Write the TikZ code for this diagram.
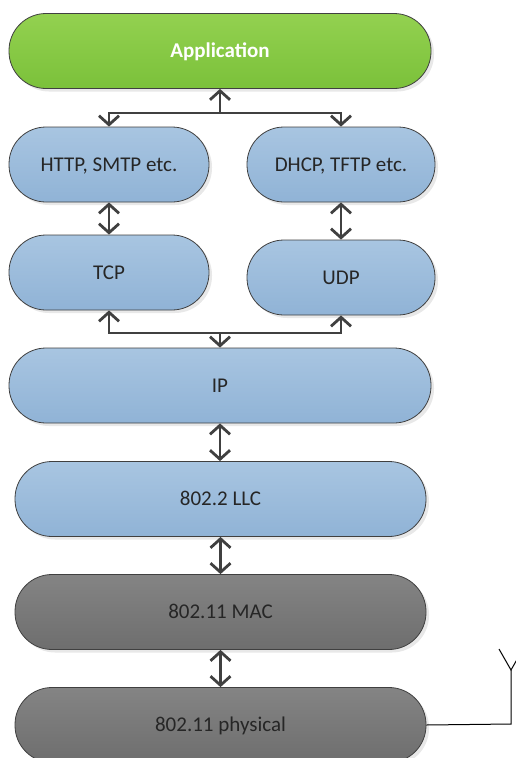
\documentclass[tikz,border=0pt]{standalone}
\usepackage{fontspec}
\setmainfont{Carlito}
\usetikzlibrary{arrows.meta,shadows}
\definecolor{edgec}{HTML}{404040}
\definecolor{gtop}{HTML}{93D150}
\definecolor{gbot}{HTML}{7BC13A}
\definecolor{btop}{HTML}{A8C5E1}
\definecolor{bbot}{HTML}{90B3D6}
\definecolor{ktop}{HTML}{848484}
\definecolor{kbot}{HTML}{6E6E6E}
\tikzset{
  layer/.style={draw=edgec, line width=0.8pt, rounded corners=37pt,
    minimum height=75pt, inner sep=0pt, text height=13.5pt, text depth=0pt,
    font=\fontsize{21}{25}\selectfont,
    drop shadow={shadow xshift=3pt, shadow yshift=-3pt, fill=black!18}},
  greenlayer/.style={layer, top color=gtop, bottom color=gbot, text=white,
    font=\fontsize{21}{25}\selectfont\bfseries},
  bluelayer/.style={layer, top color=btop, bottom color=bbot, text=black!85},
  graylayer/.style={layer, top color=ktop, bottom color=kbot, text=black!85},
  link/.style={draw=edgec, line width=2.8pt,
    arrows={Straight Barb[length=9pt,width=20pt,line width=2.8pt]-Straight Barb[length=9pt,width=20pt,line width=2.8pt]}},
  halflink/.style={draw=edgec, line width=2.8pt,
    -{Straight Barb[length=9pt,width=20pt,line width=2.8pt]}},
  wire/.style={draw=black, line width=1pt}
}
\begin{document}
\begin{tikzpicture}[x=1pt,y=-1pt]
\useasboundingbox (0,0) rectangle (516,758);
\node[greenlayer, minimum width=422pt] (app) at (220,51) {Application};
\node[bluelayer, minimum width=200pt] (http) at (109,164.5) {HTTP, SMTP etc.};
\node[bluelayer, minimum width=188pt] (dhcp) at (341,164.5) {DHCP, TFTP etc.};
\node[bluelayer, minimum width=200pt] (tcp) at (109,272.5) {TCP};
\node[bluelayer, minimum width=188pt] (udp) at (341,277.5) {UDP};
\node[bluelayer, minimum width=422pt] (ip) at (220,385.5) {IP};
\node[bluelayer, minimum width=411pt] (llc) at (220.5,499) {802.2 LLC};
\node[graylayer, minimum width=411pt] (mac) at (220.5,612) {802.11 MAC};
\node[graylayer, minimum width=411pt] (phy) at (220.5,725) {802.11 physical};

\coordinate (topbus) at (220,113);
\coordinate (botbus) at (220,333);
\draw[halflink] (topbus) -- (app.south);
\draw[halflink] (topbus) -| (http.north);
\draw[halflink] (topbus) -| (dhcp.north);
\draw[link] (http) -- (tcp);
\draw[link] (dhcp) -- (udp);
\draw[halflink] (botbus) -| (tcp.south);
\draw[halflink] (botbus) -| (udp.south);
\draw[halflink] (botbus) -- (ip.north);
\draw[link] (ip.south) -- (ip.south |- llc.north);
\draw[link] (llc) -- (mac);
\draw[link] (mac) -- (phy);

\coordinate (antbase) at (511,724);
\coordinate (anttip) at (511,670);
\coordinate (antl) at (499,649);
\coordinate (antr) at (523,649);
\draw[wire] (phy.east) -- (antbase) -- (anttip);
\draw[wire] (antl) -- (anttip) -- (antr);
\end{tikzpicture}
\end{document}
